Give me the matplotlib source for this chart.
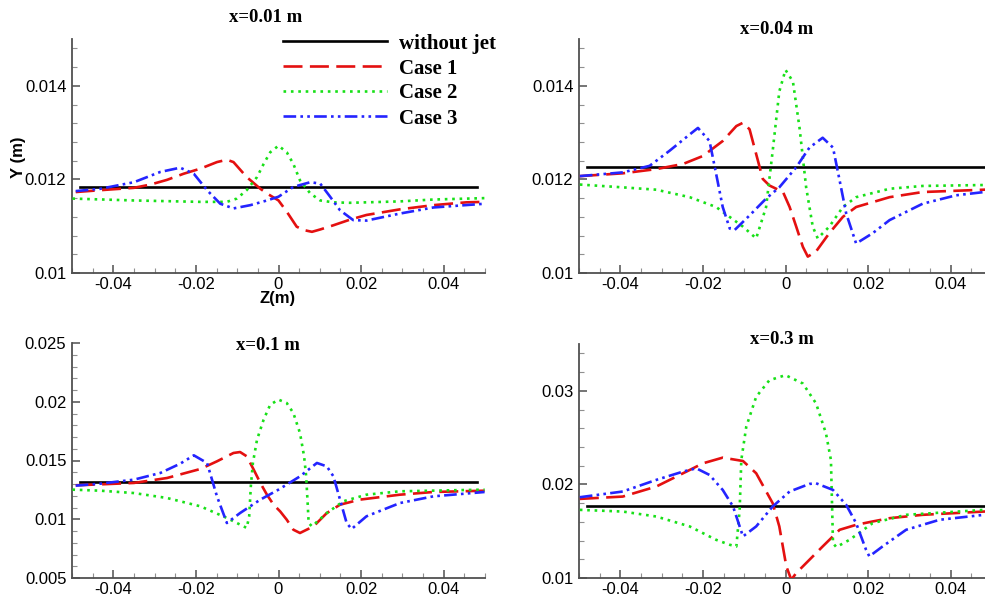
import matplotlib
matplotlib.use("Agg")
import matplotlib.pyplot as plt
from matplotlib.ticker import MultipleLocator

# Spanwise jet profiles Y(Z) at four streamwise stations
stations = ["x=0.01 m", "x=0.04 m", "x=0.1 m", "x=0.3 m"]
series_labels = ["without jet", "Case 1", "Case 2", "Case 3"]

# baseline (no jet) height at each station, drawn from z=-0.048 to 0.048
base_z = [-0.048, 0.048]
base_y = [0.01183, 0.01226, 0.0132, 0.01764]

# x = 0.01 m
z1_c1 = [-0.0491, -0.0431, -0.0350, -0.0310, -0.0270, -0.0230, -0.0189, -0.0149, -0.0125, -0.0109,
         -0.0077, -0.0044, -0.0028, 0.0, 0.0020, 0.0044, 0.0060, 0.0081, 0.0101, 0.0133,
         0.0173, 0.0213, 0.0294, 0.0375, 0.0455, 0.0499]
y1_c1 = [0.01173, 0.01177, 0.01182, 0.01189, 0.01199, 0.01212, 0.01223, 0.01237, 0.01242, 0.01237,
         0.01205, 0.01180, 0.01170, 0.01155, 0.01131, 0.01099, 0.01092, 0.01088, 0.01093, 0.01102,
         0.01114, 0.01124, 0.01136, 0.01145, 0.01151, 0.01152]
z1_c2 = [-0.0499, -0.0350, -0.0189, -0.0125, -0.0101, -0.0077, -0.0052, -0.0036, -0.0020, 0.0,
         0.0020, 0.0036, 0.0052, 0.0077, 0.0101, 0.0133, 0.0173, 0.0294, 0.0375, 0.0499]
y1_c2 = [0.01159, 0.01155, 0.01152, 0.01152, 0.01159, 0.01177, 0.01205, 0.01233, 0.01258, 0.01272,
         0.01258, 0.01233, 0.01198, 0.01170, 0.01155, 0.01151, 0.01150, 0.01153, 0.01157, 0.01160]
z1_c3 = [-0.0491, -0.0431, -0.0350, -0.0286, -0.0238, -0.0205, -0.0173, -0.0141, -0.0109, -0.0068,
         -0.0028, 0.0, 0.0036, 0.0077, 0.0101, 0.0125, 0.0149, 0.0181, 0.0213, 0.0294,
         0.0375, 0.0499]
y1_c3 = [0.01175, 0.01180, 0.01194, 0.01216, 0.01225, 0.01212, 0.01177, 0.01148, 0.01138, 0.01145,
         0.01155, 0.01163, 0.01184, 0.01194, 0.01191, 0.01163, 0.01134, 0.01113, 0.01112, 0.01127,
         0.01140, 0.01148]

# x = 0.04 m
z2_c1 = [-0.0498, -0.0394, -0.0313, -0.0248, -0.0200, -0.0152, -0.0119, -0.0103, -0.0087, -0.0071,
         -0.0055, -0.0039, -0.0006, 0.0010, 0.0026, 0.0042, 0.0054, 0.0074, 0.0106, 0.0139,
         0.0171, 0.0252, 0.0332, 0.0481, 0.05]
y2_c1 = [0.01207, 0.01213, 0.01222, 0.01233, 0.01250, 0.01282, 0.01314, 0.01321, 0.01307, 0.01254,
         0.01201, 0.01187, 0.01173, 0.01141, 0.01099, 0.01056, 0.01035, 0.01046, 0.01085, 0.01120,
         0.01141, 0.01162, 0.01173, 0.01178, 0.01179]
z2_c2 = [-0.0498, -0.0394, -0.0313, -0.0232, -0.0168, -0.0103, -0.0071, -0.0047, -0.0031, -0.0015,
         0.0, 0.0018, 0.0034, 0.0050, 0.0066, 0.0078, 0.0106, 0.0139, 0.0171, 0.0252,
         0.0332, 0.0481, 0.05]
y2_c2 = [0.01189, 0.01183, 0.01178, 0.01162, 0.01141, 0.01099, 0.01074, 0.01141, 0.01261, 0.01388,
         0.01434, 0.01409, 0.01310, 0.01183, 0.01099, 0.01074, 0.01099, 0.01141, 0.01162, 0.01180,
         0.01186, 0.01188, 0.01188]
z2_c3 = [-0.0498, -0.0394, -0.0329, -0.0281, -0.0232, -0.0212, -0.0184, -0.0168, -0.0152, -0.0135,
         -0.0123, -0.0087, -0.0047, -0.0015, 0.0026, 0.0058, 0.0090, 0.0115, 0.0131, 0.0147,
         0.0171, 0.0211, 0.0252, 0.0332, 0.0413, 0.0481, 0.05]
y2_c3 = [0.01207, 0.01215, 0.01229, 0.01261, 0.01296, 0.01310, 0.01282, 0.01212, 0.01141, 0.01095,
         0.01092, 0.01123, 0.01159, 0.01183, 0.01226, 0.01268, 0.01289, 0.01268, 0.01198, 0.01127,
         0.01063, 0.01085, 0.01113, 0.01148, 0.01166, 0.01173, 0.01175]

# x = 0.1 m
z3_c1 = [-0.0491, -0.0431, -0.0350, -0.0270, -0.0189, -0.0149, -0.0109, -0.0093, -0.0077, -0.0060,
         -0.0044, -0.0028, -0.0012, 0.0004, 0.0020, 0.0036, 0.0052, 0.0085, 0.0117, 0.0149,
         0.0197, 0.0294, 0.0375, 0.0499]
y3_c1 = [0.01289, 0.01297, 0.01309, 0.01351, 0.01428, 0.01493, 0.01564, 0.01572, 0.01536, 0.01422,
         0.01309, 0.01209, 0.01124, 0.01067, 0.00996, 0.00911, 0.00883, 0.00940, 0.01053, 0.01124,
         0.01167, 0.01209, 0.01232, 0.01243]
z3_c2 = [-0.0499, -0.0431, -0.0350, -0.0270, -0.0189, -0.0125, -0.0077, -0.0071, -0.0067, -0.0062,
         -0.0052, -0.0036, -0.0020, 0.0, 0.0020, 0.0036, 0.0052, 0.0062, 0.0067, 0.0071,
         0.0073, 0.0081, 0.0117, 0.0157, 0.0213, 0.0294, 0.0499]
y3_c2 = [0.01252, 0.01243, 0.01223, 0.01181, 0.01110, 0.01011, 0.00926, 0.01025, 0.01280, 0.01479,
         0.01677, 0.01848, 0.01975, 0.02018, 0.01989, 0.01904, 0.01734, 0.01535, 0.01365, 0.01110,
         0.00968, 0.00940, 0.01053, 0.01153, 0.01209, 0.01238, 0.01252]
z3_c3 = [-0.0491, -0.0431, -0.0350, -0.0286, -0.0238, -0.0205, -0.0173, -0.0149, -0.0125, -0.0093,
         -0.0044, 0.0, 0.0052, 0.0093, 0.0117, 0.0133, 0.0149, 0.0165, 0.0177, 0.0213,
         0.0294, 0.0375, 0.0499]
y3_c3 = [0.01286, 0.01303, 0.01337, 0.01394, 0.01473, 0.01544, 0.01479, 0.01195, 0.00968, 0.01053,
         0.01167, 0.01252, 0.01365, 0.01479, 0.01450, 0.01365, 0.01167, 0.00968, 0.00917, 0.01025,
         0.01138, 0.01195, 0.01232]

# x = 0.3 m
z4_c1 = [-0.0498, -0.0394, -0.0313, -0.0232, -0.0200, -0.0152, -0.0103, -0.0071, -0.0031, -0.0015,
         0.0002, 0.0014, 0.0026, 0.0058, 0.0090, 0.0131, 0.0171, 0.0211, 0.0252, 0.0332,
         0.0481, 0.05]
y4_c1 = [0.01845, 0.01870, 0.01977, 0.02154, 0.02225, 0.02286, 0.02250, 0.02119, 0.01799, 0.01551,
         0.01124, 0.00982, 0.01053, 0.01195, 0.01337, 0.01515, 0.01568, 0.01604, 0.01639, 0.01675,
         0.01710, 0.01712]
z4_c2 = [-0.0498, -0.0394, -0.0313, -0.0232, -0.0168, -0.0135, -0.0119, -0.0111, -0.0107, -0.0095,
         -0.0071, -0.0039, 0.0, 0.0042, 0.0074, 0.0098, 0.0110, 0.0115, 0.0123, 0.0155,
         0.0211, 0.0292, 0.0481, 0.05]
y4_c2 = [0.01728, 0.01710, 0.01657, 0.01551, 0.01408, 0.01355, 0.01337, 0.01728, 0.02261, 0.02616,
         0.02936, 0.03113, 0.03167, 0.03078, 0.02865, 0.02545, 0.02261, 0.01373, 0.01330, 0.01408,
         0.01586, 0.01675, 0.01728, 0.01728]
z4_c3 = [-0.0498, -0.0394, -0.0313, -0.0248, -0.0216, -0.0184, -0.0152, -0.0127, -0.0103, -0.0071,
         -0.0031, 0.0010, 0.0058, 0.0074, 0.0115, 0.0147, 0.0171, 0.0195, 0.0203, 0.0235,
         0.0292, 0.0373, 0.0481, 0.05]
y4_c3 = [0.01863, 0.01924, 0.02048, 0.02137, 0.02172, 0.02101, 0.01941, 0.01764, 0.01444, 0.01551,
         0.01764, 0.01924, 0.02005, 0.02012, 0.01941, 0.01781, 0.01586, 0.01302, 0.01231, 0.01337,
         0.01515, 0.01622, 0.01675, 0.01677]

profiles = [
    [(z1_c1, y1_c1), (z1_c2, y1_c2), (z1_c3, y1_c3)],
    [(z2_c1, y2_c1), (z2_c2, y2_c2), (z2_c3, y2_c3)],
    [(z3_c1, y3_c1), (z3_c2, y3_c2), (z3_c3, y3_c3)],
    [(z4_c1, y4_c1), (z4_c2, y4_c2), (z4_c3, y4_c3)],
]

# y ranges and tick steps per station
y_limits = [(0.01, 0.015), (0.01, 0.015), (0.005, 0.025), (0.01, 0.035)]
y_minor = [0.0004, 0.0004, 0.001, 0.002]
y_ticklabels = [
    {0.01: "0.01", 0.012: "0.012", 0.014: "0.014"},
    {0.01: "0.01", 0.012: "0.012", 0.014: "0.014"},
    {0.005: "0.005", 0.01: "0.01", 0.015: "0.015", 0.02: "0.02", 0.025: "0.025"},
    {0.01: "0.01", 0.02: "0.02", 0.03: "0.03"},
]
x_ticks = [-0.04, -0.02, 0.0, 0.02, 0.04]
x_ticklabels = ["-0.04", "-0.02", "0", "0.02", "0.04"]

colors = ["black", "#e41010", "#18e018", "#2424ff"]
styles = ["-", (0, (7.2, 2.8)), (0, (1.0, 1.8)), (0, (4.8, 1.6, 1.0, 1.6, 1.0, 1.6))]
LW = 1.9

W, H = 985, 599
fig = plt.figure(figsize=(W / 100, H / 100), dpi=100)

# panel boxes in pixels: left, top, width, height
boxes = [(72, 39, 413, 234), (579, 39, 413, 234), (72, 343, 413, 235), (579, 344, 413, 234)]
# title centres in pixels
title_pos = [(266, 17), (777, 30), (268, 346), (782, 339)]

tick_font = {"family": "Liberation Sans", "size": 12}
serif_bold = {"family": "Liberation Serif", "weight": "bold"}
axis_grey = "#505050"

axes = []
for i, (l, t, w, h) in enumerate(boxes):
    ax = fig.add_axes([l / W, (H - t - h) / H, w / W, h / H])
    axes.append(ax)

    ax.plot(base_z, [base_y[i]] * 2, color=colors[0], linestyle=styles[0], lw=LW,
            label=series_labels[0], zorder=3)
    for k, (z, y) in enumerate(profiles[i]):
        ax.plot(z, y, color=colors[k + 1], linestyle=styles[k + 1], lw=LW,
                label=series_labels[k + 1], zorder=3)

    ax.set_xlim(-0.05, 0.05)
    ax.set_ylim(*y_limits[i])
    ax.set_xticks(x_ticks)
    ax.set_xticklabels(x_ticklabels, fontdict=tick_font)
    ax.set_yticks(list(y_ticklabels[i].keys()))
    ax.set_yticklabels(list(y_ticklabels[i].values()), fontdict=tick_font)
    ax.xaxis.set_minor_locator(MultipleLocator(0.005))
    ax.yaxis.set_minor_locator(MultipleLocator(y_minor[i]))

    for side in ["top", "right"]:
        ax.spines[side].set_visible(False)
    for side in ["left", "bottom"]:
        ax.spines[side].set_color(axis_grey)
        ax.spines[side].set_linewidth(1.3)
    ax.tick_params(which="major", direction="in", length=6, width=1.1, color=axis_grey,
                   labelcolor="black")
    ax.tick_params(axis="x", which="major", pad=3)
    ax.tick_params(axis="y", which="major", pad=4)
    ax.tick_params(which="minor", direction="in", length=3.5, width=0.8, color="#909090")
    ax.patch.set_alpha(0)

    fig.text(title_pos[i][0] / W, 1 - title_pos[i][1] / H, stations[i],
             ha="center", va="center", fontsize=13.5, **serif_bold)

# axis names on the first panel
fig.text(18 / W, 1 - 157 / H, "Y (m)", rotation=90, ha="center", va="center",
         fontsize=12, fontweight="bold", family="Liberation Sans")
fig.text(278 / W, 1 - 298 / H, "Z(m)", ha="center", va="center",
         fontsize=12, fontweight="bold", family="Liberation Sans")

leg = axes[0].legend(loc="upper left", bbox_to_anchor=(283 / W, 1 - 33.5 / H),
                     bbox_transform=fig.transFigure, frameon=False,
                     handlelength=5.0, handletextpad=0.58, labelspacing=0.24,
                     borderpad=0, borderaxespad=0,
                     prop={"family": "Liberation Serif", "weight": "bold", "size": 15})

fig.savefig("out.png", dpi=100)
